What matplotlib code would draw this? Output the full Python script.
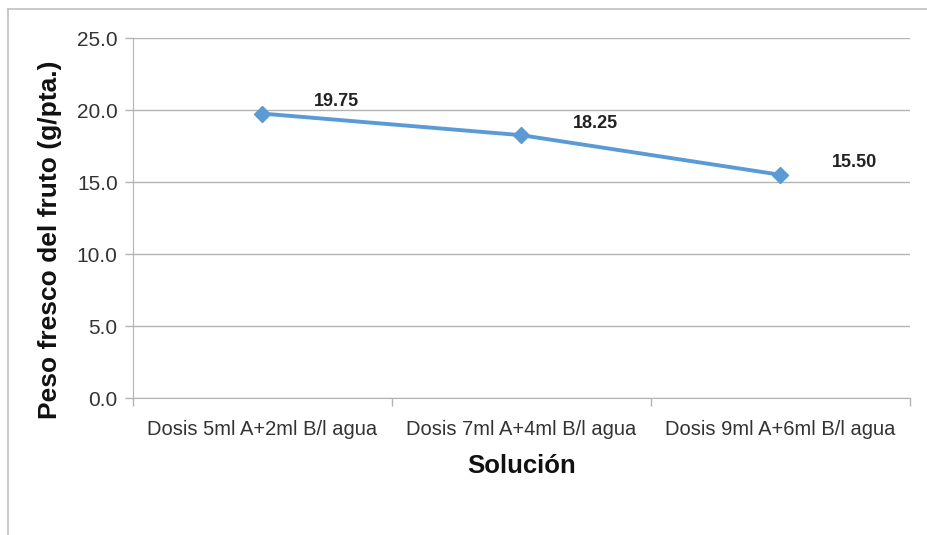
import matplotlib
matplotlib.use("Agg")
import matplotlib.pyplot as plt
from matplotlib.lines import Line2D

categories = ["Dosis 5ml A+2ml B/l agua", "Dosis 7ml A+4ml B/l agua", "Dosis 9ml A+6ml B/l agua"]
values = [19.75, 18.25, 15.50]
y_ticks = [0.0, 5.0, 10.0, 15.0, 20.0, 25.0]

font = "Liberation Sans"

W, H = 928, 535
fig = plt.figure(figsize=(W / 100, H / 100), dpi=100)
ax = fig.add_axes([133 / W, 1 - 398 / H, (910 - 133) / W, (398 - 38) / H])

grid_c = "#b3b3b3"
x = [0.5, 1.5, 2.5]
ax.plot(x, values, color="#5b9bd5", lw=2.8, marker="D", ms=8.5,
        markerfacecolor="#5b9bd5", markeredgecolor="#5b9bd5", zorder=3, clip_on=False)

for xi, v in zip(x, values):
    ax.annotate(f"{v:.2f}", (xi, v), xytext=(53, 8.5), textcoords="offset points",
                ha="center", va="center", fontsize=13, fontweight="bold",
                family=font, color="#222222")

ax.set_xlim(0, 3)
ax.set_ylim(0, 25)
ax.set_yticks(y_ticks)
ax.set_yticklabels([f"{t:.1f}" for t in y_ticks], family=font, fontsize=15, color="#333333")
ax.set_xticks([0, 1, 2, 3])
ax.set_xticklabels([])
ax.set_xticks(x, minor=True)
ax.set_xticklabels(categories, minor=True, family=font, fontsize=14.5, color="#333333")
ax.tick_params(axis="x", which="minor", length=0, pad=15.5)
ax.tick_params(axis="x", which="major", length=6, color=grid_c, width=1)
ax.tick_params(axis="y", length=6, color=grid_c, width=1, pad=5)

ax.yaxis.grid(True, color=grid_c, lw=1)
ax.set_axisbelow(True)
for s in ["top", "right"]:
    ax.spines[s].set_visible(False)
ax.spines["left"].set_color(grid_c)
ax.spines["bottom"].set_color(grid_c)

ax.set_ylabel("Peso fresco del fruto (g/pta.)", family=font, fontsize=19,
              fontweight="bold", color="#111111", va="center")
ax.yaxis.set_label_coords(-0.107, 0.44)
ax.set_xlabel("Solución", family=font, fontsize=18.5, fontweight="bold",
              color="#111111", labelpad=11)

# outer chart frame (left and top edges)
fig.add_artist(Line2D([8.5 / W, 8.5 / W], [0, 1 - 8.5 / H], transform=fig.transFigure,
                      color="#c0c0c0", lw=1.2))
fig.add_artist(Line2D([8.5 / W, 1], [1 - 8.5 / H, 1 - 8.5 / H], transform=fig.transFigure,
                      color="#c0c0c0", lw=1.2))

fig.savefig("out.png", dpi=100, facecolor="white")
